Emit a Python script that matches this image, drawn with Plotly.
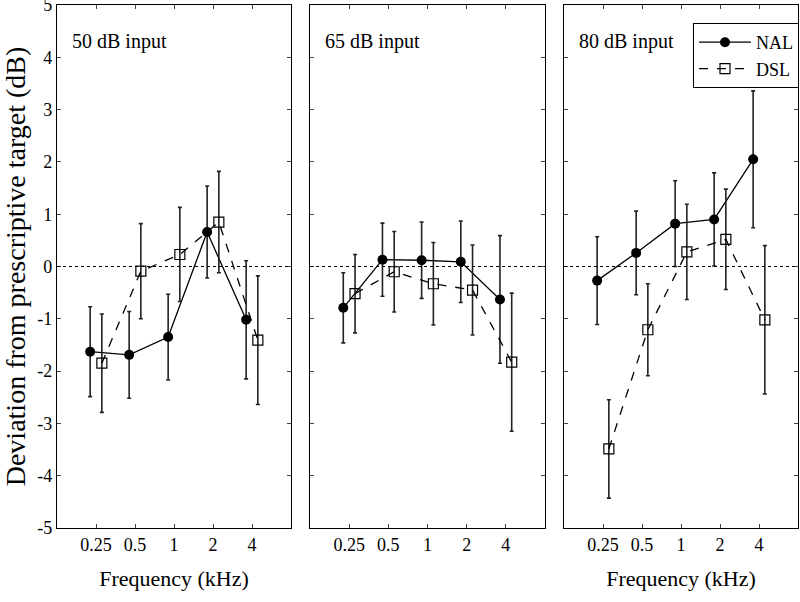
import plotly.graph_objects as go

freq_labels = ["0.25", "0.5", "1", "2", "4"]
freq_pos = [1, 2, 3, 4, 5]
panel_titles = ["50 dB input", "65 dB input", "80 dB input"]

nal_50 = [-1.63, -1.69, -1.35, 0.66, -1.02]
nal_50_err = [0.86, 0.83, 0.82, 0.88, 1.13]
dsl_50 = [-1.85, -0.09, 0.23, 0.85, -1.41]
dsl_50_err = [0.94, 0.91, 0.90, 0.97, 1.23]

nal_65 = [-0.79, 0.13, 0.12, 0.09, -0.63]
nal_65_err = [0.67, 0.70, 0.73, 0.78, 1.22]
dsl_65 = [-0.52, -0.10, -0.33, -0.45, -1.83]
dsl_65_err = [0.75, 0.77, 0.79, 0.86, 1.32]

nal_80 = [-0.27, 0.26, 0.82, 0.90, 2.05]
nal_80_err = [0.84, 0.80, 0.82, 0.89, 1.31]
dsl_80 = [-3.49, -1.21, 0.28, 0.52, -1.02]
dsl_80_err = [0.94, 0.88, 0.91, 0.96, 1.42]

y_ticks = [-5, -4, -3, -2, -1, 0, 1, 2, 3, 4, 5]
y_labels = ["-5", "-4", "-3", "-2", "-1", "0", "1", "2", "3", "4", "5"]

nal_sets = [(nal_50, nal_50_err), (nal_65, nal_65_err), (nal_80, nal_80_err)]
dsl_sets = [(dsl_50, dsl_50_err), (dsl_65, dsl_65_err), (dsl_80, dsl_80_err)]

FONT = "Liberation Serif"
offset = 0.15
W, H = 800, 602
ml, mr, mt, mb = 57, 2, 5, 74
pw = W - ml - mr
domains = [(0, 234 / pw), (253 / pw, 488 / pw), (507 / pw, 1.0)]

fig = go.Figure()
for i in range(3):
    xa = "x" if i == 0 else f"x{i+1}"
    ya = "y" if i == 0 else f"y{i+1}"
    ny, ne = nal_sets[i]
    dy, de = dsl_sets[i]
    fig.add_trace(go.Scatter(
        x=[p - offset for p in freq_pos], y=ny, xaxis=xa, yaxis=ya,
        mode="lines+markers", name="NAL", showlegend=(i == 2),
        line=dict(color="black", width=1.3),
        marker=dict(symbol="circle", size=10, color="black"),
        error_y=dict(type="data", array=ne, visible=True, color="#222", thickness=1.6, width=2),
    ))
    fig.add_trace(go.Scatter(
        x=[p + offset for p in freq_pos], y=dy, xaxis=xa, yaxis=ya,
        mode="lines+markers", name="DSL", showlegend=(i == 2),
        line=dict(color="black", width=1.3, dash="dash"),
        marker=dict(symbol="square-open", size=10, color="black", line=dict(width=1.2)),
        error_y=dict(type="data", array=de, visible=True, color="#222", thickness=1.6, width=2),
    ))
    fig.add_shape(type="line", xref=f"{xa} domain", yref=ya, x0=0, x1=1, y0=0, y1=0,
                  line=dict(color="black", width=1.2, dash="dot"))
    fig.add_annotation(text=panel_titles[i], xref=f"{xa} domain", yref=f"{ya} domain",
                       x=0.055, y=0.93, xanchor="left", yanchor="middle", showarrow=False,
                       font=dict(family=FONT, size=20, color="black"))

    axkey = "xaxis" if i == 0 else f"xaxis{i+1}"
    aykey = "yaxis" if i == 0 else f"yaxis{i+1}"
    fig.update_layout(**{
        axkey: dict(domain=list(domains[i]), range=[0, 6], tickvals=freq_pos, ticktext=freq_labels,
                    ticks="inside", ticklen=4, mirror="ticks", showline=True, linecolor="black",
                    linewidth=1.3, showgrid=False, zeroline=False, anchor=ya, automargin=False,
                    tickfont=dict(family=FONT, size=18, color="black"),
                    title=dict(text="Frequency (kHz)", standoff=16,
                               font=dict(family=FONT, size=22, color="black")) if i != 1 else None),
        aykey: dict(range=[-5.002, 5.002], tickvals=y_ticks, ticktext=y_labels, ticks="inside",
                    ticklen=4, mirror="ticks", automargin=False, ticklabeloverflow="allow",
                    showline=True, linecolor="black", linewidth=1.3, showgrid=False, zeroline=False,
                    anchor=xa, showticklabels=(i == 0),
                    tickfont=dict(family=FONT, size=18, color="black"),
                    title=dict(text="Deviation from prescriptive target (dB)", standoff=3,
                               font=dict(family=FONT, size=28, color="black")) if i == 0 else None),
    })

fig.update_layout(
    width=W, height=H, margin=dict(l=ml, r=mr, t=mt, b=mb, autoexpand=False),
    paper_bgcolor="white", plot_bgcolor="white",
    font=dict(family=FONT, color="black"),
    legend=dict(x=(693 - ml) / pw, y=(528 - 23) / (H - mt - mb), xanchor="left", yanchor="top",
                bgcolor="white", bordercolor="black", borderwidth=1,
                font=dict(family=FONT, size=18), tracegroupgap=0, itemwidth=52),
)

fig.write_html("out.html", config={"displayModeBar": False},
               post_script="document.body.style.margin='0';document.body.style.padding='0';")
